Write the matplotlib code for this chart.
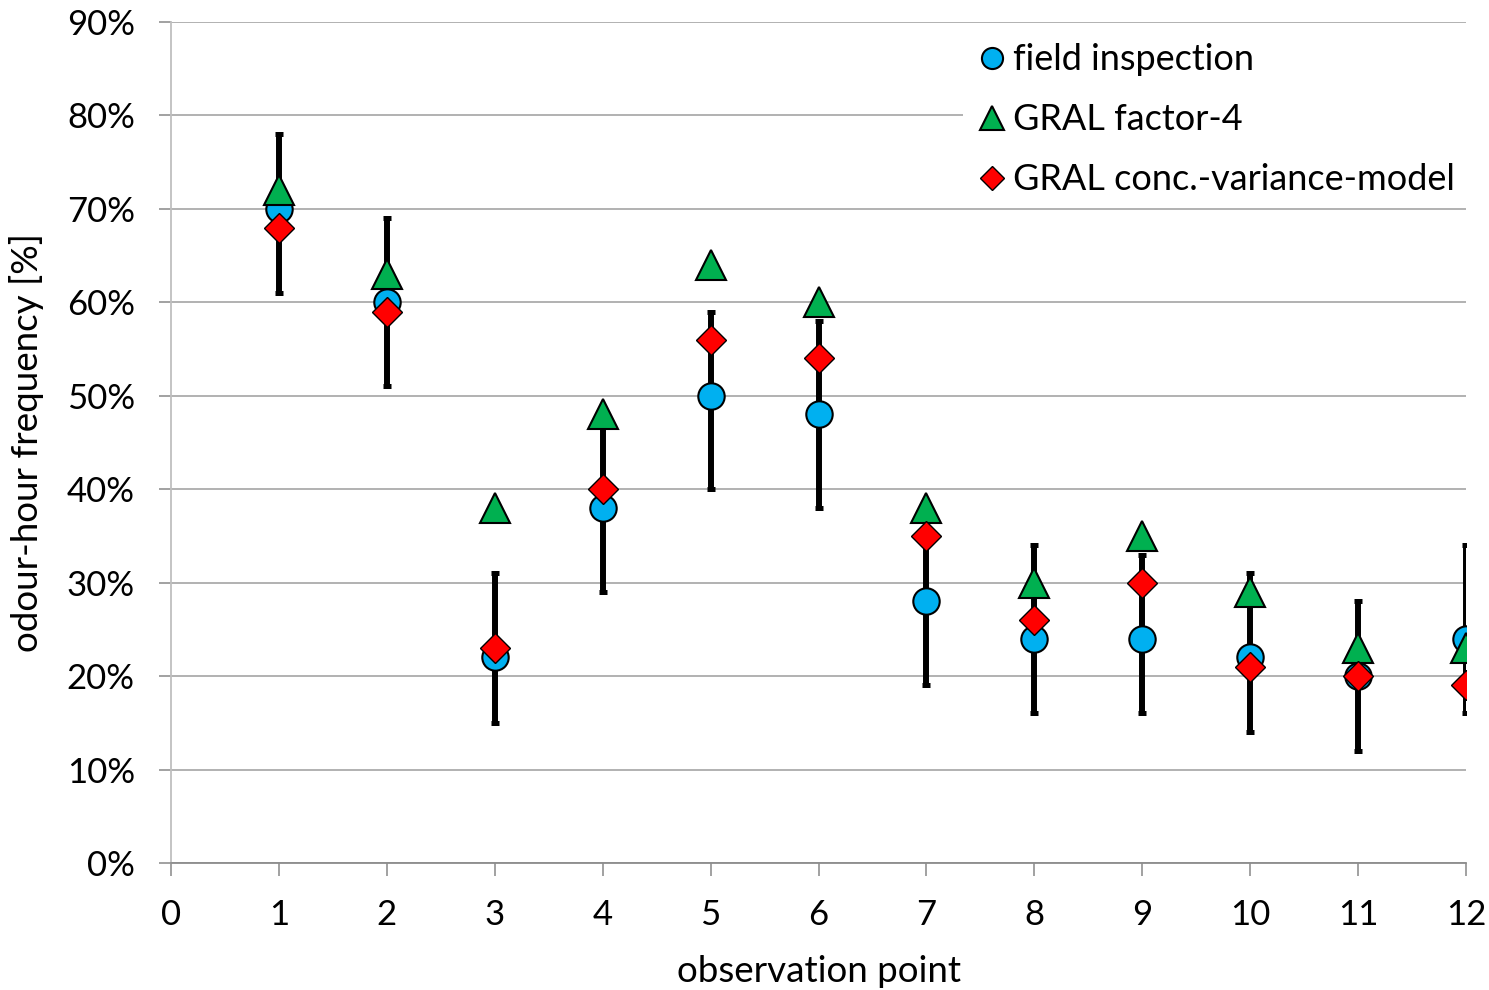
import numpy as np
import matplotlib
matplotlib.use("Agg")
import matplotlib.pyplot as plt
from matplotlib.ticker import FuncFormatter

plt.rcParams['font.family'] = ['Lato', 'DejaVu Sans']

# observation points
points = [1, 2, 3, 4, 5, 6, 7, 8, 9, 10, 11, 12]

# odour-hour frequency in %
field = [70, 60, 22, 38, 50, 48, 28, 24, 24, 22, 20, 24]
field_low = [61, 51, 15, 29, 40, 38, 19, 16, 16, 14, 12, 16]
field_high = [78, 69, 31, 47, 59, 58, 37, 34, 33, 31, 28, 34]
factor4 = [72, 63, 38, 48, 64, 60, 38, 30, 35, 29, 23, 23]
concvar = [68, 59, 23, 40, 56, 54, 35, 26, 30, 21, 20, 19]

x_ticks = list(range(0, 13))
y_ticks = list(range(0, 100, 10))

fig = plt.figure(figsize=(14.89, 9.9), dpi=100)
ax = fig.add_axes([0.1148, 0.1283, 0.9846 - 0.1148, 0.9778 - 0.1283])

field = np.array(field)
yerr = [field - np.array(field_low), np.array(field_high) - field]

ax.errorbar(points, field, yerr=yerr, fmt='none', ecolor='black',
            elinewidth=4.3, capsize=3.2, capthick=3.6, zorder=3)
ax.plot(points, field, 'o', color='#00b0f0', markeredgecolor='black',
        markeredgewidth=1.5, markersize=19, label='field inspection', zorder=4)
ax.plot(points, factor4, '^', color='#00b050', markeredgecolor='black',
        markeredgewidth=1.5, markersize=21, label='GRAL factor-4', zorder=5)
ax.plot(points, concvar, 'D', color='#ff0000', markeredgecolor='black',
        markeredgewidth=1.0, markersize=15, label='GRAL conc.-variance-model', zorder=6)

ax.set_xlim(0, 12)
ax.set_ylim(0, 90)
ax.set_xticks(x_ticks)
ax.set_yticks(y_ticks)
ax.yaxis.set_major_formatter(FuncFormatter(lambda v, p: f"{int(v)}%"))

ax.grid(axis='y', color='#ababab', linewidth=1.3, zorder=0)
ax.set_axisbelow(True)
for s in ['top', 'right']:
    ax.spines[s].set_visible(False)
ax.spines['left'].set_color('#bfbfbf')
ax.spines['left'].set_linewidth(1.3)
ax.spines['bottom'].set_color('#8c8c8c')
ax.spines['bottom'].set_linewidth(1.3)
ax.tick_params(axis='both', labelsize=25, color='#9a9a9a', width=1.3, length=9)
ax.tick_params(axis='y', pad=17)
ax.tick_params(axis='x', pad=17)

ax.set_xlabel('observation point', fontsize=26.5, labelpad=17)
ax.set_ylabel('odour-hour frequency [%]', fontsize=26.5, labelpad=16)

leg = ax.legend(loc='upper right', bbox_to_anchor=(1.014, 1.009), fontsize=26,
                frameon=True, fancybox=False, edgecolor='white', framealpha=1.0,
                handletextpad=0.1, handlelength=1.0, labelspacing=0.75,
                borderpad=0.3, markerscale=0.8)
leg.get_frame().set_linewidth(0)

fig.savefig('out.png', dpi=100)
